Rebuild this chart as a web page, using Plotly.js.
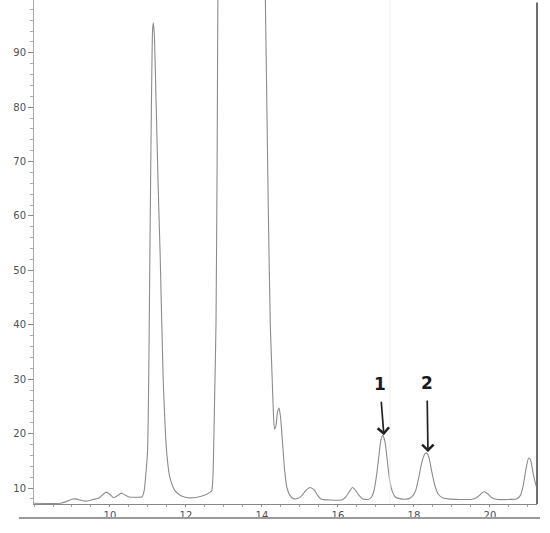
<!DOCTYPE html>
<html>
<head>
<meta charset="utf-8">
<script src="https://cdn.plot.ly/plotly-3.0.1.min.js"></script>
<style>
  html, body { margin: 0; padding: 0; background: #fff; }
  #plot { width: 550px; height: 533px; }
</style>
</head>
<body>
<div id="plot"></div>
<script>
const time = [
  8.0, 8.7, 8.85, 9.0, 9.1, 9.25, 9.4, 9.55, 9.7, 9.8, 9.9, 10.0, 10.1, 10.2, 10.3, 10.4, 10.5, 10.7, 10.85,
  10.9, 10.95, 10.99, 11.02, 11.05, 11.09, 11.12, 11.14, 11.17, 11.21, 11.27, 11.32, 11.4, 11.46, 11.5, 11.56,
  11.62, 11.7, 11.8, 11.9, 12.05, 12.3, 12.5, 12.63, 12.68,
  12.71, 12.75, 12.79, 12.82, 12.84, 12.9, 13.4, 14.0, 14.08, 14.12, 14.17, 14.22, 14.27, 14.3, 14.33,
  14.37, 14.41, 14.45, 14.49, 14.54, 14.6, 14.66, 14.75, 14.85, 14.95,
  15.05, 15.15, 15.27, 15.38, 15.47, 15.55, 15.8, 16.1, 16.2, 16.3, 16.38, 16.45, 16.55, 16.65, 16.8,
  16.88, 16.95, 17.02, 17.08, 17.13, 17.18, 17.24, 17.3, 17.36, 17.44, 17.52, 17.65, 17.85,
  17.95, 18.05, 18.13, 18.2, 18.28, 18.34, 18.4, 18.47, 18.55, 18.63, 18.75, 18.9, 19.2, 19.5,
  19.65, 19.75, 19.84, 19.95, 20.05, 20.2, 20.5, 20.7, 20.8, 20.88, 20.95, 21.02, 21.07, 21.13, 21.2, 21.28
];
const signal = [
  7.2, 7.2, 7.5, 7.95, 8.0, 7.7, 7.6, 7.9, 8.1, 8.7, 9.25, 8.8, 8.2, 8.6, 9.05, 8.7, 8.35, 8.3, 8.4,
  9.5, 13, 17, 30, 53, 80, 94, 95.5, 93, 82, 65, 53, 30, 20, 16, 12.5,
  10.9, 9.6, 8.9, 8.5, 8.2, 8.3, 8.7, 9.2, 9.6,
  12, 25, 40, 70, 100, 150, 220, 150, 105, 85, 60, 40, 30, 24, 20.8,
  21.5, 24, 24.7, 23, 18.5, 13, 10, 8.5, 8.0, 8.1,
  8.6, 9.5, 10.1, 9.6, 8.6, 8.0, 7.8, 7.8, 8.3, 9.3, 10.1, 9.7, 8.7, 8.0, 7.9,
  8.3, 9.5, 12.5, 16, 18.8, 19.7, 18.5, 15, 11.5, 9.2, 8.3, 8.0, 8.0,
  8.4, 9.6, 12, 14.5, 16.2, 16.4, 15.5, 13, 10.5, 9.0, 8.2, 8.0, 7.9, 7.9,
  8.2, 8.8, 9.3, 8.9, 8.2, 7.9, 7.9, 8.0, 8.6, 10.5, 13.5, 15.5, 15.2, 13, 10.8, 9.2
];

// Picos marcados a mano
const peakLabels = ['1', '2'];
const peakX = [17.21, 18.37];
const peakY = [19.7, 16.6];
const labelOffsetY = [-51, -69];

const xTicks = [10, 12, 14, 16, 18, 20];
const yTicks = [10, 20, 30, 40, 50, 60, 70, 80, 90];

const traces = [{
    type: 'scatter',
    mode: 'lines',
    x: time,
    y: signal,
    line: { color: '#8c8c8c', width: 1.1, shape: 'spline', smoothing: 0.5 },
    hoverinfo: 'x+y',
    showlegend: false
}];

const annotations = peakLabels.map((t, i) => ({
    x: peakX[i], y: peakY[i],
    xref: 'x', yref: 'y',
    text: '<b>' + t + '</b>',
    showarrow: true,
    arrowhead: 4, arrowsize: 1.3, arrowwidth: 1.7, arrowcolor: '#222',
    startstandoff: 6,
    ax: i === 0 ? -4 : -1,
    ay: labelOffsetY[i],
    font: { family: 'DejaVu Sans', size: 17, color: '#1a1a1a' }
}));

const layout = {
    width: 550, height: 533,
    margin: { l: 34, r: 13, t: 0, b: 29 },
    paper_bgcolor: '#fff',
    plot_bgcolor: '#fff',
    font: { family: 'DejaVu Sans', size: 10, color: '#555' },
    xaxis: {
        range: [8.0, 21.24],
        tickvals: xTicks,
        ticks: 'outside', ticklen: 2, tickcolor: '#888',
        minor: { dtick: 0.5, tick0: 0, ticks: 'outside', ticklen: 2, tickcolor: '#aaa', showgrid: false },
        showline: true, linecolor: '#888', linewidth: 1,
        showgrid: false, zeroline: false,
        tickfont: { size: 10, color: '#505050' }
    },
    yaxis: {
        range: [7.06, 99.7],
        tickvals: yTicks,
        ticks: 'outside', ticklen: 5, tickcolor: '#888',
        minor: { dtick: 2, tick0: 0, ticks: 'outside', ticklen: 3, tickcolor: '#aaa', showgrid: false },
        showline: true, linecolor: '#aaa', linewidth: 1,
        showgrid: false, zeroline: false,
        tickfont: { size: 10, color: '#505050' }
    },
    shapes: [
        // borde derecho del registro
        { type: 'line', xref: 'paper', yref: 'paper', x0: 1, x1: 1, y0: 0, y1: 0.995,
          line: { color: '#6f6f6f', width: 2 } },
        // línea bajo las etiquetas
        { type: 'line', xref: 'paper', yref: 'paper', x0: -0.03, x1: 1.006, y0: -0.028, y1: -0.028,
          line: { color: '#9a9a9a', width: 2 } },
        // marca tenue del escaneo
        { type: 'line', xref: 'x', yref: 'paper', x0: 17.37, x1: 17.37, y0: 0, y1: 1,
          line: { color: '#efefef', width: 1 } }
    ],
    annotations: annotations
};

Plotly.newPlot('plot', traces, layout, { displayModeBar: false, staticPlot: true });
</script>
</body>
</html>
